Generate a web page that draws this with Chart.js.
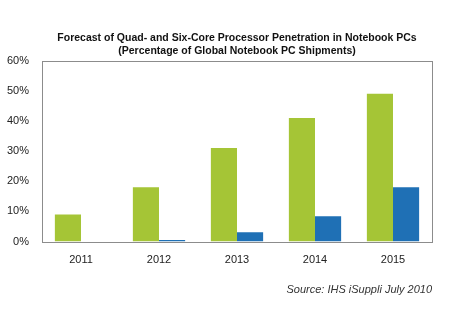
<!DOCTYPE html>
<html>
<head>
<meta charset="utf-8">
<script src="https://cdn.jsdelivr.net/npm/chart.js@4/dist/chart.umd.min.js"></script>
<style>
  html, body { margin: 0; padding: 0; background: #fff; }
  #wrap { width: 452px; height: 332px; }
</style>
</head>
<body>
<div id="wrap"><canvas id="penetrationChart"></canvas></div>
<script>
const years = ['2011', '2012', '2013', '2014', '2015'];
const quadCoreShare = [9, 18, 31, 41, 49];
const sixCoreShare = [0, 0.5, 3.1, 8.4, 18];
const yTicks = [0, 10, 20, 30, 40, 50, 60];

// box around the plot area, and the title centred over the plot like the original
const frameBox = {
  id: 'frameBox',
  afterLayout(chart) {
    chart.titleBlock.left = chart.chartArea.left;
    chart.titleBlock.right = chart.chartArea.right;
  },
  afterDatasetsDraw(chart) {
    const { ctx, chartArea: a } = chart;
    ctx.save();
    ctx.strokeStyle = '#8c8c8c';
    ctx.lineWidth = 1;
    ctx.strokeRect(Math.round(a.left) + 0.5, Math.round(a.top) + 0.5,
      Math.round(a.right - a.left), Math.round(a.bottom - a.top));
    ctx.restore();
  }
};

const ctxPenetration = document.getElementById('penetrationChart').getContext('2d');
new Chart(ctxPenetration, {
  type: 'bar',
  data: {
    labels: years,
    datasets: [{
      label: 'Quad-core',
      data: quadCoreShare,
      backgroundColor: '#a5c536',
      borderWidth: 0,
    }, {
      label: 'Six-core',
      data: sixCoreShare,
      backgroundColor: '#1f70b5',
      borderWidth: 0,
    }],
  },
  options: {
    responsive: true,
    maintainAspectRatio: false,
    animation: false,
    categoryPercentage: 0.67,
    barPercentage: 1,
    layout: { padding: { left: 6, right: 20, top: 22, bottom: 35 } },
    plugins: {
      legend: { display: false },
      tooltip: { enabled: false },
      title: {
        display: true,
        text: ['Forecast of Quad- and Six-Core Processor Penetration in Notebook PCs',
          '(Percentage of Global Notebook PC Shipments)'],
        color: '#111',
        font: { family: 'Liberation Sans', size: 10.5, weight: 'bold', lineHeight: 1.24 },
        padding: { top: 10, bottom: 2.5 },
      },
      subtitle: {
        display: true,
        position: 'bottom',
        align: 'end',
        text: 'Source: IHS iSuppli July 2010',
        color: '#333',
        font: { family: 'Liberation Sans', size: 11, style: 'italic' },
        padding: { top: 5, bottom: 0 },
      },
    },
    scales: {
      x: {
        grid: { display: false, drawTicks: false },
        border: { display: false },
        ticks: { color: '#222', font: { family: 'Liberation Sans', size: 11 }, padding: 12 },
      },
      y: {
        min: 0,
        max: 60,
        afterBuildTicks(axis) { axis.ticks = yTicks.map(v => ({ value: v })); },
        afterFit(axis) { axis.width = 36; },
        grid: { display: false, drawTicks: false },
        border: { display: false },
        ticks: {
          color: '#222',
          font: { family: 'Liberation Sans', size: 11 },
          padding: 13,
          callback: v => v + '%',
        },
      },
    },
  },
  plugins: [frameBox],
});
</script>
</body>
</html>
